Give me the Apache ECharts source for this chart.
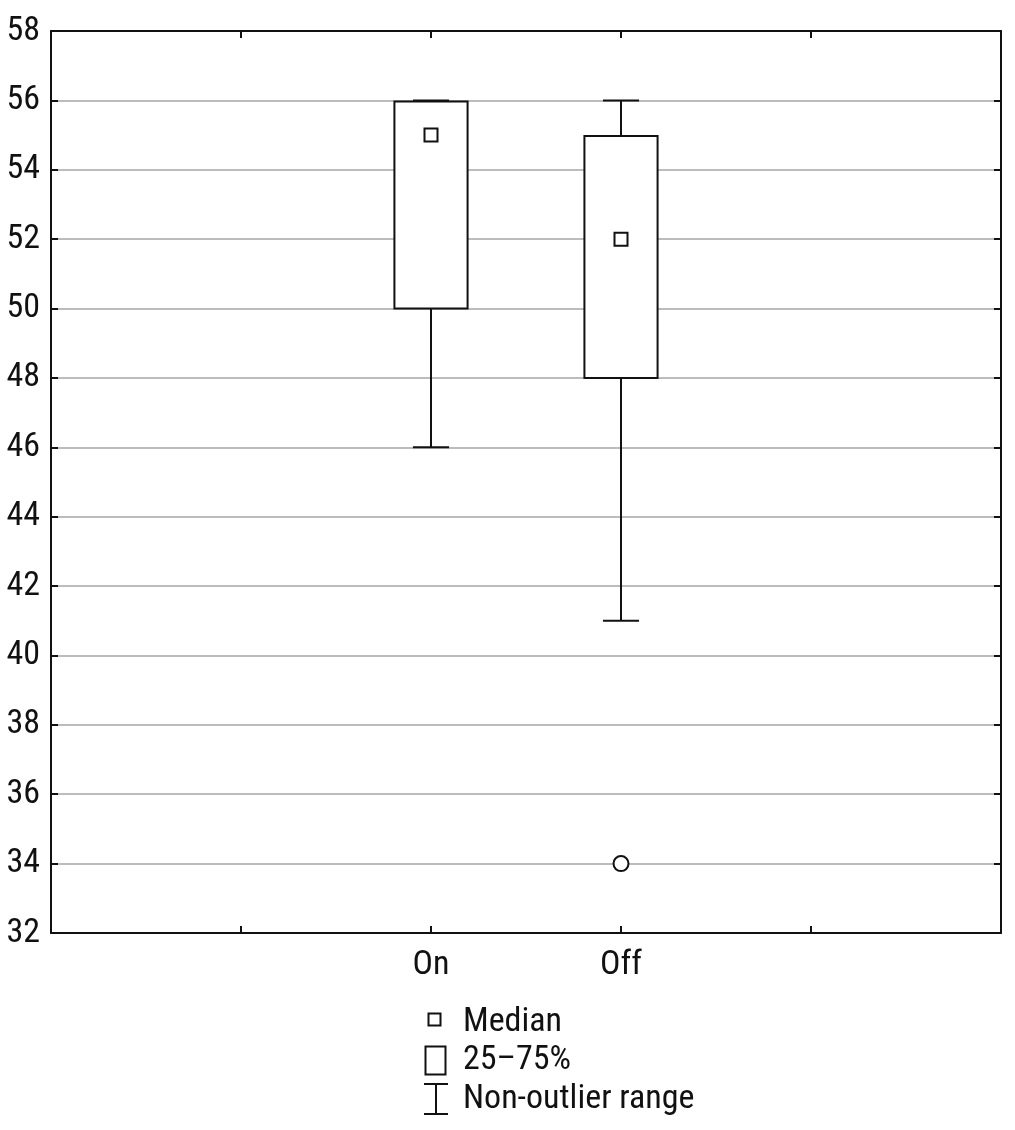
<!DOCTYPE html>
<html>
<head>
<meta charset="utf-8">
<script src="https://cdn.jsdelivr.net/npm/echarts@6/dist/echarts.min.js"></script>
<style>html,body{margin:0;padding:0;background:#fff;}#c{width:1015px;height:1130px;}</style>
</head>
<body>
<div id="c"></div>
<script>
// ---- data ----
const axisSlots = ['', '', 'On', 'Off', '', ''];
const groups = ['On', 'Off'];
const whiskerMin = [46, 41];
const q1 = [50, 48];
const median = [55, 52];
const q3 = [56, 55];
const whiskerMax = [56, 56];
const outlierGroups = ['Off'];
const outlierValues = [34];
const yTicks = [32, 34, 36, 38, 40, 42, 44, 46, 48, 50, 52, 54, 56, 58];
const legendLabels = ['Median', '25\u201375%', 'Non-outlier range'];

const FONT = "'Liberation Sans Narrow','Arial Narrow','Roboto Condensed','DejaVu Sans Condensed',sans-serif";
const INK = '#111';
const FS = 34;

const boxData = groups.map((g, i) => [g, whiskerMin[i], q1[i], median[i], q3[i], whiskerMax[i]]);
const outlierData = outlierGroups.map((g, i) => [g, outlierValues[i]]);

function renderBox(params, api) {
  const x = api.value(0);
  const band = api.size([1, 0])[0];
  const bw = band * 0.385;
  const cw = band * 0.19;
  const pMin = api.coord([x, api.value(1)]);
  const pQ1 = api.coord([x, api.value(2)]);
  const pMed = api.coord([x, api.value(3)]);
  const pQ3 = api.coord([x, api.value(4)]);
  const pMax = api.coord([x, api.value(5)]);
  const cx = pMin[0];
  const ls = { stroke: INK, lineWidth: 2, fill: null };
  const children = [];
  if (pMin[1] - pQ1[1] > 0.5) {
    children.push({ type: 'line', shape: { x1: cx, y1: pQ1[1], x2: cx, y2: pMin[1] }, style: ls });
  }
  children.push({ type: 'line', shape: { x1: cx - cw / 2, y1: pMin[1], x2: cx + cw / 2, y2: pMin[1] }, style: ls });
  if (pQ3[1] - pMax[1] > 0.5) {
    children.push({ type: 'line', shape: { x1: cx, y1: pMax[1], x2: cx, y2: pQ3[1] }, style: ls });
  }
  children.push({ type: 'line', shape: { x1: cx - cw / 2, y1: pMax[1], x2: cx + cw / 2, y2: pMax[1] }, style: ls });
  children.push({ type: 'rect', shape: { x: cx - bw / 2, y: pQ3[1] + 1, width: bw, height: pQ1[1] - pQ3[1] - 1 },
    style: { fill: '#fff', stroke: INK, lineWidth: 2 } });
  const ms = 13;
  children.push({ type: 'rect', shape: { x: cx - ms / 2, y: pMed[1] - ms / 2, width: ms, height: ms },
    style: { fill: '#fff', stroke: INK, lineWidth: 2 } });
  return { type: 'group', children };
}

const chart = echarts.init(document.getElementById('c'), null, { renderer: 'canvas' });
const axisLineStyle = { color: INK, width: 2 };
const option = {
  animation: false,
  backgroundColor: '#fff',
  grid: { left: 51, right: 14, top: 31, bottom: 197, containLabel: false },
  xAxis: [
    {
      type: 'category', data: axisSlots, boundaryGap: false, position: 'bottom',
      axisLine: { show: true, lineStyle: axisLineStyle, onZero: false },
      axisTick: { show: true, inside: true, length: 7, lineStyle: { color: INK, width: 2 }, interval: 0 },
      axisLabel: { show: true, interval: 0, margin: 15, fontFamily: FONT, fontSize: FS, color: INK },
      splitLine: { show: false }
    },
    {
      type: 'category', data: axisSlots, boundaryGap: false, position: 'top',
      axisLine: { show: true, lineStyle: axisLineStyle, onZero: false },
      axisTick: { show: true, inside: true, length: 7, lineStyle: { color: INK, width: 2 }, interval: 0 },
      axisLabel: { show: false }, splitLine: { show: false }
    }
  ],
  yAxis: [
    {
      type: 'value', min: 32, max: 58, interval: 2, position: 'left',
      axisLine: { show: true, lineStyle: axisLineStyle, onZero: false },
      axisTick: { show: true, inside: true, length: 7, lineStyle: { color: INK, width: 2 } },
      axisLabel: { show: true, margin: 11, fontFamily: FONT, fontSize: FS, color: INK },
      splitLine: { show: true, lineStyle: { color: '#bcbcbc', width: 2 } }
    },
    {
      type: 'value', min: 32, max: 58, interval: 2, position: 'right',
      axisLine: { show: true, lineStyle: axisLineStyle, onZero: false },
      axisTick: { show: true, inside: true, length: 7, lineStyle: { color: INK, width: 2 } },
      axisLabel: { show: false }, splitLine: { show: false }
    }
  ],
  series: [
    {
      type: 'custom', name: 'box', xAxisIndex: 0, yAxisIndex: 0,
      renderItem: renderBox,
      encode: { x: 0, y: [1, 2, 3, 4, 5] },
      data: boxData, z: 5
    },
    {
      type: 'scatter', name: 'outlier', xAxisIndex: 0, yAxisIndex: 0,
      symbol: 'circle', symbolSize: 15,
      itemStyle: { color: '#fff', borderColor: INK, borderWidth: 2, opacity: 1 },
      data: outlierData, z: 6
    }
  ],
  graphic: [
    { type: 'rect', shape: { x: 428.5, y: 1013.5, width: 12, height: 12 }, style: { fill: '#fff', stroke: INK, lineWidth: 2 } },
    { type: 'rect', shape: { x: 425.5, y: 1046.5, width: 20, height: 28 }, style: { fill: '#fff', stroke: INK, lineWidth: 2 } },
    { type: 'line', shape: { x1: 424, y1: 1084, x2: 448, y2: 1084 }, style: { stroke: INK, lineWidth: 2 } },
    { type: 'line', shape: { x1: 436, y1: 1084, x2: 436, y2: 1114 }, style: { stroke: INK, lineWidth: 2 } },
    { type: 'line', shape: { x1: 424, y1: 1114, x2: 448, y2: 1114 }, style: { stroke: INK, lineWidth: 2 } },
    { type: 'text', left: 463, top: 1005, style: { text: legendLabels[0], font: FS + 'px ' + FONT, fill: INK } },
    { type: 'text', left: 463, top: 1043, style: { text: legendLabels[1], font: FS + 'px ' + FONT, fill: INK } },
    { type: 'text', left: 463, top: 1082, style: { text: legendLabels[2], font: FS + 'px ' + FONT, fill: INK } }
  ]
};
chart.setOption(option);
</script>
</body>
</html>
